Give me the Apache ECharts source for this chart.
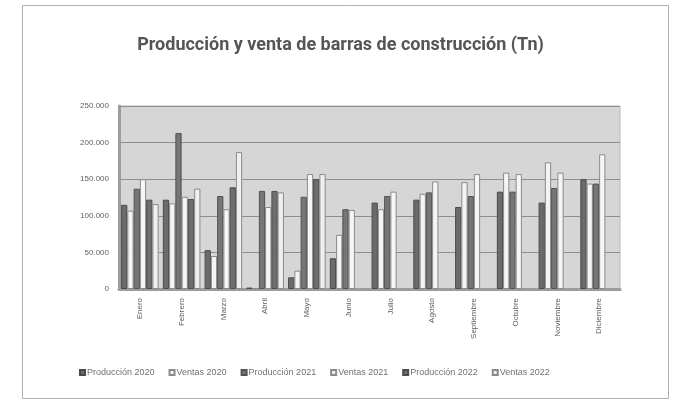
<!DOCTYPE html>
<html>
<head>
<meta charset="utf-8">
<script src="https://cdn.jsdelivr.net/npm/echarts@6/dist/echarts.min.js"></script>
<style>
  html, body { margin: 0; padding: 0; background: #ffffff; }
  #chart { width: 681px; height: 404px; }
</style>
</head>
<body>
<div id="chart"></div>
<script>
// Monthly production and sales of construction bars (tonnes)
const months = ['Enero', 'Febrero', 'Marzo', 'Abril', 'Mayo', 'Junio', 'Julio',
  'Agosto', 'Septiembre', 'Octubre', 'Noviembre', 'Diciembre'];

const produccion2020 = [115000, 122000, 53000, 2000, 16000, 42000, 118000, 122000, 112000, 133000, 118000, 150000];
const ventas2020     = [107000, 117000, 45000, 1000, 25000, 74000, 109000, 130000, 146000, 159000, 173000, 144000];
const produccion2021 = [137000, 213000, 127000, 134000, 126000, 109000, 127000, 132000, 127000, 133000, 138000, 144000];
const ventas2021     = [150000, 126000, 109000, 112000, 157000, 108000, 133000, 147000, 157000, 157000, 159000, 184000];
const produccion2022 = [122000, 123000, 139000, 134000, 150000, null, null, null, null, null, null, null];
const ventas2022     = [116000, 137000, 187000, 132000, 157000, null, null, null, null, null, null, null];

const seriesNames = ['Producción 2020', 'Ventas 2020', 'Producción 2021', 'Ventas 2021', 'Producción 2022', 'Ventas 2022'];
const seriesData = [produccion2020, ventas2020, produccion2021, ventas2021, produccion2022, ventas2022];

// Dark fill for production, pale fill for sales
const fills   = ['#6b6b6b', '#f4f4f4', '#767676', '#f6f6f6', '#6e6e6e', '#efefef'];
const borders = ['#4a4a4a', '#8a8a8a', '#525252', '#8a8a8a', '#4d4d4d', '#8a8a8a'];

// Spanish thousands separator: 250000 -> "250.000"
function fmt(v) {
  return String(v).replace(/\B(?=(\d{3})+(?!\d))/g, '.');
}

const chart = echarts.init(document.getElementById('chart'), null, { renderer: 'canvas' });

chart.setOption({
  backgroundColor: '#ffffff',
  animation: false,
  title: {
    text: 'Producción y venta de barras de construcción (Tn)',
    left: 'center',
    top: 31,
    textStyle: {
      fontFamily: 'Roboto',
      fontWeight: 'bold',
      fontSize: 18,
      color: '#555555'
    }
  },
  legend: {
    left: 74,
    top: 363,
    itemWidth: 5,
    itemHeight: 5,
    itemGap: 14,
    icon: 'rect',
    textStyle: {
      fontFamily: 'Liberation Sans',
      fontSize: 9,
      color: '#707070',
      padding: [0, 0, 0, -3]
    },
    data: seriesNames
  },
  grid: {
    left: 119,
    right: 61,
    top: 106,
    bottom: 115,
    show: true,
    backgroundColor: '#d6d6d6',
    borderColor: '#b9b9b9',
    borderWidth: 1
  },
  xAxis: {
    type: 'category',
    data: months,
    axisTick: { show: false },
    axisLine: { show: true, lineStyle: { color: '#9c9c9c', width: 3 } },
    axisLabel: {
      rotate: 90,
      interval: 0,
      margin: 9,
      fontFamily: 'Liberation Sans',
      fontSize: 8,
      color: '#5e5e5e'
    }
  },
  yAxis: {
    type: 'value',
    min: 0,
    max: 250000,
    interval: 50000,
    axisLine: { show: true, lineStyle: { color: '#9c9c9c', width: 3 } },
    axisTick: { show: false },
    splitLine: { show: true, lineStyle: { color: '#8e8e8e', width: 1 } },
    axisLabel: {
      margin: 10,
      fontFamily: 'Liberation Sans',
      fontSize: 8,
      color: '#5e5e5e',
      formatter: fmt
    }
  },
  series: seriesNames.map((name, i) => ({
    name: name,
    type: 'bar',
    data: seriesData[i],
    barGap: '0%',
    barCategoryGap: '10%',
    itemStyle: {
      color: fills[i],
      borderColor: borders[i],
      borderWidth: 1
    }
  })),
  graphic: [
    {
      type: 'rect',
      silent: true,
      z: -1,
      shape: { x: 22.5, y: 5.5, width: 646, height: 393 },
      style: { fill: 'none', stroke: '#b0b0b0', lineWidth: 1 }
    }
  ]
});
</script>
</body>
</html>
